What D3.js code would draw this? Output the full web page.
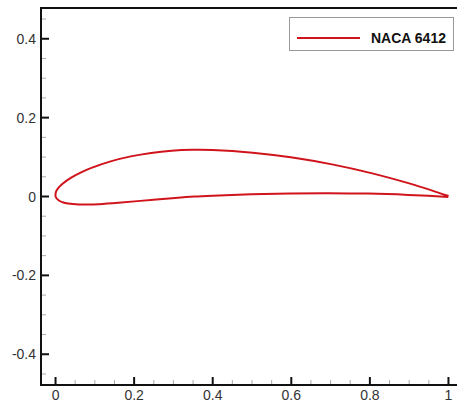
<!DOCTYPE html>
<html><head><meta charset="utf-8">
<script src="https://cdn.jsdelivr.net/npm/d3@7"></script>
<style>body{margin:0;background:#fff}svg{display:block}</style>
</head><body>
<svg id="c" width="457" height="405"></svg>
<script>
// NACA 6412 surface coordinates (x/c, y/c)
const upperX = [1.00025, 0.95146, 0.90238, 0.80347, 0.70365, 0.60304, 0.50176, 0.4, 0.34777, 0.29551, 0.24336, 0.19149, 0.14015, 0.08972, 0.06505, 0.04097, 0.01792, 0.00721, 0.00153, 0];
const upperY = [0.00124, 0.01752, 0.03262, 0.05933, 0.08146, 0.09886, 0.11124, 0.11803, 0.11842, 0.11610, 0.11060, 0.10173, 0.08910, 0.07194, 0.06120, 0.04844, 0.03244, 0.02188, 0.01320, 0];
const lowerX = [0.00847, 0.01779, 0.03208, 0.05903, 0.08495, 0.11028, 0.15985, 0.20851, 0.25664, 0.30449, 0.35223, 0.4, 0.49824, 0.59696, 0.69635, 0.79653, 0.89762, 0.94854, 0.99975];
const lowerY = [-0.01022, -0.01450, -0.01791, -0.02032, -0.02042, -0.01944, -0.01598, -0.01173, -0.00748, -0.00360, -0.00030, 0.00197, 0.00542, 0.00780, 0.00854, 0.00733, 0.00405, 0.00164, -0.00124];
const seriesName = "NACA 6412";
const xTicks = [0, 0.2, 0.4, 0.6, 0.8, 1];
const xTickLabels = ["0", "0.2", "0.4", "0.6", "0.8", "1"];
const yTicks = [-0.4, -0.2, 0, 0.2, 0.4];
const yTickLabels = ["-0.4", "-0.2", "0", "0.2", "0.4"];

const svg = d3.select("#c");
const x = d3.scaleLinear().domain([-0.037, 1.037]).range([41, 463]);
const y = d3.scaleLinear().domain([-0.478, 0.478]).range([385, 8]);

const pts = upperX.map((v, i) => [v, upperY[i]]).concat(lowerX.map((v, i) => [v, lowerY[i]]));

// minor ticks
const xMinor = d3.range(0, 21).map(i => i * 0.05).filter(v => !xTicks.some(t => Math.abs(t - v) < 1e-6));
const yMinor = d3.range(-9, 10).map(i => i * 0.05).filter(v => !yTicks.some(t => Math.abs(t - v) < 1e-6));

svg.append("g").selectAll("line").data(xMinor).join("line")
  .attr("x1", d => x(d)).attr("x2", d => x(d)).attr("y1", 385).attr("y2", 380)
  .attr("stroke", "#aaa").attr("stroke-width", 1);
svg.append("g").selectAll("line").data(yMinor).join("line")
  .attr("y1", d => y(d)).attr("y2", d => y(d)).attr("x1", 41).attr("x2", 46)
  .attr("stroke", "#aaa").attr("stroke-width", 1);

// major ticks
svg.append("g").selectAll("line").data(xTicks).join("line")
  .attr("x1", d => x(d)).attr("x2", d => x(d)).attr("y1", 385).attr("y2", 377)
  .attr("stroke", "#111").attr("stroke-width", 2);
svg.append("g").selectAll("line").data(yTicks).join("line")
  .attr("y1", d => y(d)).attr("y2", d => y(d)).attr("x1", 41).attr("x2", 49)
  .attr("stroke", "#111").attr("stroke-width", 2);

// tick labels
svg.append("g").selectAll("text").data(xTicks).join("text")
  .attr("x", d => x(d)).attr("y", 400).attr("text-anchor", "middle")
  .attr("font-family", "Liberation Sans, Arial, sans-serif").attr("font-size", 14).attr("fill", "#333")
  .text((d, i) => xTickLabels[i]);
svg.append("g").selectAll("text").data(yTicks).join("text")
  .attr("x", 36).attr("y", d => y(d) + 5).attr("text-anchor", "end")
  .attr("font-family", "Liberation Sans, Arial, sans-serif").attr("font-size", 14).attr("fill", "#333")
  .text((d, i) => yTickLabels[i]);

// frame
svg.append("line").attr("x1", 41).attr("x2", 41).attr("y1", 7).attr("y2", 386).attr("stroke", "#111").attr("stroke-width", 2);
svg.append("line").attr("x1", 40).attr("x2", 457).attr("y1", 385).attr("y2", 385).attr("stroke", "#111").attr("stroke-width", 2);
svg.append("line").attr("x1", 40).attr("x2", 457).attr("y1", 8).attr("y2", 8).attr("stroke", "#111").attr("stroke-width", 2);

// airfoil
const line = d3.line().x(d => x(d[0])).y(d => y(d[1])).curve(d3.curveCatmullRom.alpha(0.5));
svg.append("path").datum(pts).attr("d", line)
  .attr("fill", "none").attr("stroke", "#d0141c").attr("stroke-width", 2);

// legend
const lg = svg.append("g");
lg.append("rect").attr("x", 289.5).attr("y", 17.5).attr("width", 164).attr("height", 33)
  .attr("fill", "#fff").attr("stroke", "#999").attr("stroke-width", 1);
lg.append("line").attr("x1", 297).attr("x2", 360).attr("y1", 38).attr("y2", 38)
  .attr("stroke", "#d0141c").attr("stroke-width", 2);
lg.append("text").attr("x", 371).attr("y", 43)
  .attr("font-family", "Liberation Sans, Arial, sans-serif").attr("font-size", 14).attr("font-weight", "bold").attr("fill", "#111")
  .text(seriesName);
</script>
</body></html>
